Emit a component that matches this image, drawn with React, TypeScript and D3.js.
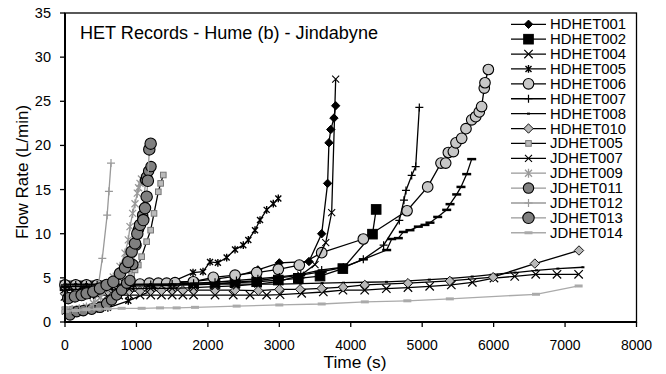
import React from 'react';
import * as d3 from 'd3';

// time (s), flow rate (L/min) pairs
const hdhet001: [number, number][] = [[0,4.3],[150,4.3],[300,4.3],[450,4.3],[600,4.3],[750,4.3],[900,4.35],[1200,4.4],[1500,4.5],[1800,4.6],[2100,4.85],[2400,5.2],[2700,5.9],[3000,6.7],[3415,6.85],[3593,10.0],[3676,15.7],[3695,20.3],[3720,21.8],[3765,23.1],[3789,24.5]];
const hdhet002: [number, number][] = [[0,4.1],[150,4.1],[300,4.1],[450,4.1],[600,4.1],[900,4.1],[1200,4.15],[1500,4.2],[1800,4.3],[2100,4.35],[2380,4.45],[2683,4.56],[2986,4.75],[3266,4.95],[3570,5.2],[3889,6.05],[4304,9.95],[4356,12.75]];
const hdhet004: [number, number][] = [[0,2.9],[150,3.0],[300,3.05],[450,3.05],[600,3.05],[750,3.05],[900,3.05],[1050,3.05],[1200,3.05],[1350,3.05],[1500,3.05],[1650,3.05],[1800,3.05],[2100,3.05],[2355,3.05],[2590,3.05],[2823,3.05],[3010,3.1],[3313,3.25],[3616,3.4],[3891,3.6],[4195,3.6],[4498,3.77],[4801,3.9],[5105,4.04],[5408,4.2],[5702,4.5],[6005,4.98],[6295,5.17],[6589,5.4],[6887,5.4],[7190,5.4]];
const hdhet005: [number, number][] = [[0,1.2],[150,1.3],[300,1.4],[450,1.5],[600,1.6],[886,2.4],[1792,5.6],[1932,5.7],[2030,6.8],[2140,6.7],[2263,7.3],[2380,8.2],[2496,8.7],[2566,9.3],[2660,10.4],[2730,11.55],[2823,12.7],[2916,13.4],[2986,14.0]];
const hdhet006: [number, number][] = [[0,4.2],[150,4.2],[300,4.2],[450,4.2],[600,4.2],[750,4.25],[900,4.3],[1050,4.3],[1180,4.4],[1306,4.4],[1423,4.4],[1540,4.45],[1796,4.56],[2076,5.06],[2380,5.3],[2683,5.6],[2986,5.97],[3280,6.45],[3593,7.85],[4176,9.4],[4788,12.6],[5077,15.3],[5263,18.0],[5329,18.0],[5366,19.2],[5436,19.3],[5473,20.3],[5553,20.8],[5613,21.9],[5693,22.9],[5749,23.25],[5799,23.8],[5832,24.4],[5869,26.5],[5879,27.1],[5926,28.6]];
const hdhet007: [number, number][] = [[0,4.2],[150,4.2],[300,4.2],[450,4.2],[600,4.2],[900,4.2],[1200,4.25],[1500,4.3],[1800,4.4],[2100,4.5],[2400,4.7],[2700,4.9],[3000,5.1],[3300,5.4],[3593,5.9],[3896,6.2],[4176,7.1],[4460,8.7],[4680,11.5],[4745,13.8],[4773,14.9],[4853,16.6],[4909,17.6],[4960,24.3]];
const hdhet008: [number, number][] = [[0,4.3],[150,4.3],[300,4.3],[450,4.3],[600,4.3],[900,4.3],[1200,4.3],[1500,4.3],[1800,4.3],[2100,4.3],[2400,4.3],[2700,4.3],[3000,4.3],[3300,4.35],[3600,4.4],[3900,4.45],[4200,4.5],[4500,4.55],[4800,4.65],[5100,4.8],[5400,4.95],[5700,5.15],[6000,5.4],[6300,5.6],[6600,5.85],[6900,6.05],[7250,6.2]];
const hdhet010: [number, number][] = [[0,3.2],[150,3.3],[300,3.4],[450,3.4],[600,3.5],[750,3.5],[900,3.5],[1050,3.5],[1200,3.55],[1350,3.55],[1500,3.6],[1650,3.6],[1800,3.6],[2100,3.6],[2380,3.6],[2706,3.55],[3000,3.7],[3290,3.7],[3593,3.8],[3893,3.95],[4197,4.2],[4801,4.4],[5387,4.65],[5993,5.08],[6577,6.62],[7195,8.1]];
const jdhet005: [number, number][] = [[0,1.4],[100,1.45],[200,1.5],[300,1.6],[400,1.75],[500,2.0],[600,2.4],[700,3.0],[800,3.8],[880,4.6],[933,5.4],[980,5.9],[1026,6.45],[1073,7.4],[1143,9.1],[1199,10.4],[1246,12.3],[1306,14.75],[1339,15.7],[1376,16.65]];
const jdhet007: [number, number][] = [[0,3.7],[300,3.7],[600,3.7],[900,3.75],[1200,3.8],[1500,3.8],[1800,3.9],[2100,4.0],[2400,4.1],[2700,4.3],[3000,4.6],[3300,5.3],[3500,6.5],[3650,9.0],[3733,12.4],[3789,27.5]];
const jdhet009: [number, number][] = [[0,1.3],[100,1.4],[200,1.5],[300,1.7],[400,2.1],[500,2.8],[600,3.8],[676,5.1],[770,6.3],[840,7.8],[886,9.3],[910,10.8],[947,12.3],[980,13.4],[1012,14.6],[1030,15.2],[1050,15.7],[1070,16.2]];
const jdhet011: [number, number][] = [[70,0.8],[164,1.17],[256,1.28],[373,1.44],[490,1.66],[583,2.1],[653,2.5],[723,3.06],[793,3.6],[863,4.4],[910,4.7],[950,6.5],[994,8.7],[1030,10.5],[1087,12.1],[1129,16.1],[1143,16.45],[1171,17.1],[1204,17.6]];
const jdhet012: [number, number][] = [[0,1.3],[100,1.35],[200,1.4],[300,1.5],[400,2.0],[450,3.2],[522,7.2],[590,12.1],[615,14.8],[644,18.0]];
const jdhet013: [number, number][] = [[46,2.7],[140,2.9],[233,3.06],[303,3.25],[396,3.43],[490,3.8],[583,4.2],[676,4.56],[770,5.5],[840,6.15],[886,6.8],[933,7.96],[980,8.9],[1012,10.0],[1050,11.0],[1096,11.55],[1120,12.9],[1143,14.2],[1160,16.0],[1180,19.55],[1199,20.2]];
const jdhet014: [number, number][] = [[0,1.2],[150,1.3],[300,1.4],[450,1.45],[600,1.5],[793,1.55],[1073,1.55],[1330,1.6],[1563,1.6],[1820,1.66],[2403,1.8],[3000,1.93],[3593,2.04],[4197,2.28],[4792,2.4],[5387,2.62],[6593,3.14],[7190,4.08]];
// a black series with bar markers that is drawn but not listed in the legend
const unlisted: [number, number][] = [[0,4.0],[300,4.0],[600,4.05],[900,4.1],[1200,4.1],[1500,4.15],[1800,4.2],[2100,4.3],[2400,4.5],[2700,4.7],[3000,5.0],[3300,5.3],[3600,5.7],[3900,6.2],[4176,7.1],[4503,8.15],[4573,9.4],[4666,9.5],[4736,10.2],[4829,10.4],[4946,10.8],[5039,11.0],[5109,11.25],[5217,11.9],[5343,12.7],[5390,13.35],[5483,14.45],[5543,15.3],[5623,16.75],[5693,18.45]];

const xTicks = [0, 1000, 2000, 3000, 4000, 5000, 6000, 7000, 8000];
const yTicks = [0, 5, 10, 15, 20, 25, 30, 35];

type Style = { name: string; data: [number, number][]; line: string; marker: string; size: number; fill: string; stroke: string; sw: number; legend: boolean };

const series: Style[] = [
  { name: 'HDHET001', data: hdhet001, line: '#000', marker: 'diamond', size: 4.2, fill: '#000', stroke: '#000', sw: 1, legend: true },
  { name: 'HDHET002', data: hdhet002, line: '#000', marker: 'square', size: 4.8, fill: '#000', stroke: '#000', sw: 1, legend: true },
  { name: 'HDHET004', data: hdhet004, line: '#000', marker: 'x', size: 4.2, fill: 'none', stroke: '#000', sw: 1.2, legend: true },
  { name: 'HDHET005', data: hdhet005, line: '#000', marker: 'asterisk', size: 3, fill: 'none', stroke: '#000', sw: 1.4, legend: true },
  { name: 'HDHET006', data: hdhet006, line: '#000', marker: 'circle', size: 5.3, fill: '#c8c8c8', stroke: '#000', sw: 1.1, legend: true },
  { name: 'HDHET007', data: hdhet007, line: '#000', marker: 'plus', size: 4, fill: 'none', stroke: '#000', sw: 1.2, legend: true },
  { name: 'HDHET008', data: hdhet008, line: '#000', marker: 'dash', size: 1.5, fill: 'none', stroke: '#000', sw: 2, legend: true },
  { name: 'unlisted', data: unlisted, line: '#000', marker: 'dash', size: 4.5, fill: 'none', stroke: '#000', sw: 2.5, legend: false },
  { name: 'HDHET010', data: hdhet010, line: '#000', marker: 'diamond', size: 4.7, fill: '#b8b8b8', stroke: '#000', sw: 0.9, legend: true },
  { name: 'JDHET005', data: jdhet005, line: '#000', marker: 'square', size: 2.8, fill: '#bbb', stroke: '#777', sw: 1, legend: true },
  { name: 'JDHET007', data: jdhet007, line: '#000', marker: 'x', size: 3.5, fill: 'none', stroke: '#000', sw: 1.1, legend: true },
  { name: 'JDHET009', data: jdhet009, line: '#999', marker: 'asterisk', size: 3.5, fill: 'none', stroke: '#999', sw: 1.3, legend: true },
  { name: 'JDHET011', data: jdhet011, line: '#999', marker: 'circle', size: 5.2, fill: '#808080', stroke: '#000', sw: 1.1, legend: true },
  { name: 'JDHET012', data: jdhet012, line: '#999', marker: 'plus', size: 4, fill: 'none', stroke: '#999', sw: 1.2, legend: true },
  { name: 'JDHET013', data: jdhet013, line: '#999', marker: 'circle', size: 5.7, fill: '#808080', stroke: '#000', sw: 1.1, legend: true },
  { name: 'JDHET014', data: jdhet014, line: '#aaa', marker: 'dash', size: 4, fill: 'none', stroke: '#aaa', sw: 3, legend: true },
];

const x = d3.scaleLinear().domain([0, 8000]).range([65, 636.5]);
const y = d3.scaleLinear().domain([0, 35]).range([322, 13]);
const line = d3.line<[number, number]>().x(d => x(d[0])).y(d => y(d[1]));

function Marker({ s, cx, cy }: { s: Style; cx: number; cy: number }) {
  const r = s.size;
  const t = `translate(${cx},${cy})`;
  switch (s.marker) {
    case 'circle':
      return <circle cx={cx} cy={cy} r={r} fill={s.fill} stroke={s.stroke} strokeWidth={s.sw} />;
    case 'square':
      return <rect x={cx - r} y={cy - r} width={2 * r} height={2 * r} fill={s.fill} stroke={s.stroke} strokeWidth={s.sw} />;
    case 'diamond':
      return <path transform={t} d={`M0,${-r}L${r},0L0,${r}L${-r},0Z`} fill={s.fill} stroke={s.stroke} strokeWidth={s.sw} />;
    case 'x':
      return <path transform={t} d={`M${-r},${-r}L${r},${r}M${-r},${r}L${r},${-r}`} stroke={s.stroke} strokeWidth={s.sw} fill="none" />;
    case 'asterisk':
      return <path transform={t} d={`M${-r},${-r}L${r},${r}M${-r},${r}L${r},${-r}M0,${-r * 1.3}V${r * 1.3}`} stroke={s.stroke} strokeWidth={s.sw} fill="none" />;
    case 'plus':
      return <path transform={t} d={`M${-r},0H${r}M0,${-r}V${r}`} stroke={s.stroke} strokeWidth={s.sw} fill="none" />;
    case 'dash':
      return <path transform={t} d={`M${-r},0H${r}`} stroke={s.stroke} strokeWidth={s.sw} fill="none" />;
    default:
      return null;
  }
}

// rough Arial advance widths (em) for the legend labels, used to stretch them slightly
const labelEm = (name: string) => (name.startsWith('H') ? 5.112 : 4.89);

export default function App() {
  const font = 'Liberation Sans, Arial, sans-serif';
  const legendItems = series.filter(s => s.legend);
  return (
    <svg width={666} height={374} style={{ position: 'absolute', left: 0, top: 0 }} fontFamily={font}>
      <rect width={666} height={374} fill="#fff" />
      {series.map(s => (
        <g key={s.name}>
          <path d={line(s.data) || ''} fill="none" stroke={s.line} strokeWidth={1.3} />
          {s.data.map((d, i) => <Marker key={i} s={s} cx={x(d[0])} cy={y(d[1])} />)}
        </g>
      ))}
      <rect x={65} y={13} width={571.5} height={309} fill="none" stroke="#000" strokeWidth={1.3} />
      <line x1={65} x2={65} y1={13} y2={322} stroke="#000" strokeWidth={2} />
      <line x1={64} x2={636.5} y1={322} y2={322} stroke="#000" strokeWidth={2} />
      {yTicks.map(t => (
        <g key={t}>
          <line x1={60} x2={65} y1={y(t)} y2={y(t)} stroke="#000" strokeWidth={1.3} />
          <text x={51} y={y(t) + 5} textAnchor="end" fontSize={14.5}>{t}</text>
        </g>
      ))}
      {xTicks.map(t => (
        <g key={t}>
          <line x1={x(t)} x2={x(t)} y1={322} y2={327} stroke="#000" strokeWidth={1.3} />
          <text x={x(t)} y={350} textAnchor="middle" fontSize={14}>{t}</text>
        </g>
      ))}
      <text x={80} y={39} fontSize={17.5} textLength={298} lengthAdjust="spacingAndGlyphs">HET Records - Hume (b) - Jindabyne</text>
      <text x={355} y={368} textAnchor="middle" fontSize={16} textLength={63} lengthAdjust="spacingAndGlyphs">Time (s)</text>
      <text transform="translate(28,172) rotate(-90)" textAnchor="middle" fontSize={17}>Flow Rate (L/min)</text>
      {legendItems.map((s, i) => {
        const ly = 24.3 + i * 14.89;
        return (
          <g key={s.name}>
            <line x1={511} x2={546} y1={ly} y2={ly} stroke={s.line} strokeWidth={1.3} />
            <Marker s={s} cx={528.5} cy={ly} />
            <text x={550} y={ly + 5} fontSize={14} textLength={labelEm(s.name) * 14.9} lengthAdjust="spacingAndGlyphs">{s.name}</text>
          </g>
        );
      })}
    </svg>
  );
}
